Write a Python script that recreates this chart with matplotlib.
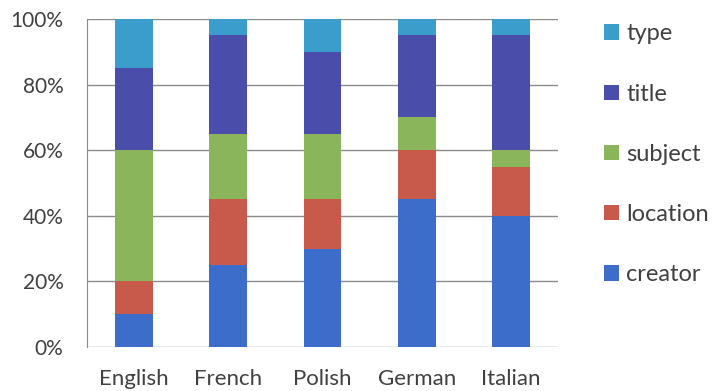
import matplotlib
matplotlib.use("Agg")
import matplotlib.pyplot as plt
import numpy as np

plt.rcParams['font.family'] = ['Lato', 'DejaVu Sans']

languages = ["English", "French", "Polish", "German", "Italian"]
series = ["creator", "location", "subject", "title", "type"]
creator = [10, 25, 30, 45, 40]
location = [10, 20, 15, 15, 15]
subject = [40, 20, 20, 10, 5]
title = [25, 30, 25, 25, 35]
type_ = [15, 5, 10, 5, 5]
values = [creator, location, subject, title, type_]
colors = ["#3d6dcb", "#c75a4a", "#8bb55a", "#4b4dab", "#3b9dcc"]

fig = plt.figure(figsize=(7.14, 3.91), dpi=100)
ax = fig.add_axes([87 / 714, 1 - 347 / 391, 471 / 714, 328 / 391])

x = np.arange(len(languages))
bottom = np.zeros(len(languages))
handles = []
for name, vals, c in zip(series, values, colors):
    b = ax.bar(x, vals, 0.4, bottom=bottom, color=c, label=name, zorder=3)
    bottom += np.array(vals)
    handles.append(b)

ax.set_xlim(-0.5, len(languages) - 0.5)
ax.set_ylim(0, 100)
ax.set_yticks(range(0, 101, 20))
ax.set_yticklabels([f"{v}%" for v in range(0, 101, 20)])
ax.set_xticks(x)
ax.set_xticklabels(languages)
ax.yaxis.grid(True, color="#8a8a8a", linewidth=1.0, zorder=0)
for s in ["top", "right", "bottom"]:
    ax.spines[s].set_visible(False)
ax.spines["left"].set_color("#8a8a8a")
ax.tick_params(axis="both", length=0, colors="#404040")
ax.tick_params(axis="y", pad=17, labelsize=15)
ax.tick_params(axis="x", pad=16, labelsize=16)

leg = fig.legend(handles[::-1], series[::-1], loc="upper left",
                 bbox_to_anchor=(595 / 714, 1 - 14 / 391), frameon=False,
                 fontsize=17, handlelength=0.62, handleheight=0.62,
                 handletextpad=0.3, labelspacing=1.66, borderaxespad=0)
for t in leg.get_texts():
    t.set_color("#404040")

fig.savefig("out.png", dpi=100)
